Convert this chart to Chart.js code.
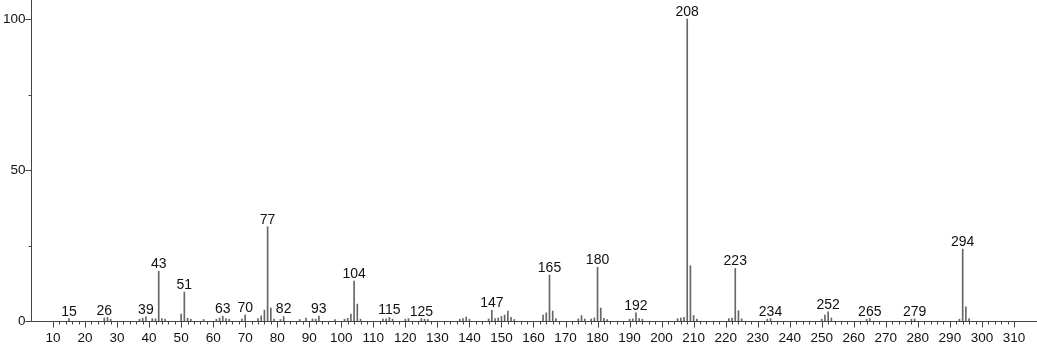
<!DOCTYPE html>
<html>
<head>
<meta charset="utf-8">
<script src="https://cdn.jsdelivr.net/npm/chart.js@4.4.1/dist/chart.umd.min.js"></script>
<style>
  html, body { margin: 0; padding: 0; background: #fff; }
  #wrap { width: 1037px; height: 345px; position: relative; }
</style>
</head>
<body>
<div id="wrap"><canvas id="c"></canvas></div>
<script>
// m/z values and relative intensities
const mz = [15,26,27,28,37,38,39,41,42,43,44,45,50,51,52,53,57,61,62,63,64,65,69,70,74,75,76,77,78,79,81,82,87,89,91,92,93,98,101,102,103,104,105,106,113,114,115,116,120,121,125,126,127,137,138,139,140,146,147,148,149,150,151,152,153,154,163,164,165,166,167,174,175,176,178,179,180,181,182,183,190,191,192,193,194,205,206,207,208,209,210,211,221,222,223,224,225,233,234,250,251,252,253,264,265,278,279,293,294,295,296];
const intensity = [0.8,1.0,1.2,0.6,0.6,0.9,1.4,0.8,0.7,16.5,0.8,0.6,2.3,9.6,0.9,0.6,0.5,0.6,1.0,1.6,0.8,0.6,0.6,2.0,0.8,1.7,3.6,31.2,4.3,0.6,0.5,1.5,0.5,1.0,0.7,0.6,1.6,0.5,0.6,0.9,2.3,13.2,5.6,0.6,0.7,0.7,1.2,0.6,0.6,0.8,0.8,0.6,0.5,0.6,0.8,1.3,0.6,0.7,3.5,0.8,1.0,1.5,2.0,3.3,1.2,0.5,2.0,2.7,15.2,3.3,0.8,0.7,1.8,0.7,0.6,1.0,17.8,4.3,0.9,0.5,0.6,0.7,2.7,0.8,0.6,0.8,1.0,1.2,100,18.3,1.8,0.6,0.8,1.0,17.4,3.4,0.7,0.6,0.8,0.6,2.0,3.0,1.0,0.6,0.8,0.6,0.7,0.6,23.8,4.7,0.8];
// peaks carrying a text label
const labeledPeaks = [15,26,39,43,51,63,70,77,82,93,104,115,125,147,165,180,192,208,223,234,252,265,279,294];
// axis tick labels
const xTickLabels = [10,20,30,40,50,60,70,80,90,100,110,120,130,140,150,160,170,180,190,200,210,220,230,240,250,260,270,280,290,300,310];
const yTickLabels = [0,50,100];
const yMinorTicks = [25,75];

const points = mz.map((m, i) => ({ x: m, y: intensity[i] }));

const axisPlugin = {
  id: 'axisPlugin',
  afterDatasetsDraw(chart) {
    const ctx = chart.ctx;
    const xs = chart.scales.x, ys = chart.scales.y, ca = chart.chartArea;
    const y0 = Math.round(ys.getPixelForValue(0)) + 0.5;
    const xl = Math.round(ca.left) + 0.5;
    ctx.save();
    ctx.strokeStyle = '#444';
    ctx.lineWidth = 1;
    ctx.beginPath();
    ctx.moveTo(xl, ca.top);
    ctx.lineTo(xl, y0);
    ctx.lineTo(ca.right, y0);
    ctx.stroke();
    // x ticks
    ctx.beginPath();
    for (let v = 10; v <= 310; v += 2) {
      const px = Math.round(xs.getPixelForValue(v)) + 0.5;
      const len = (v % 10 === 0) ? 6 : 3;
      ctx.moveTo(px, y0);
      ctx.lineTo(px, y0 + len);
    }
    // y ticks
    yTickLabels.forEach(v => {
      const py = Math.round(ys.getPixelForValue(v)) + 0.5;
      ctx.moveTo(xl, py); ctx.lineTo(xl - 6, py);
    });
    yMinorTicks.forEach(v => {
      const py = Math.round(ys.getPixelForValue(v)) + 0.5;
      ctx.moveTo(xl, py); ctx.lineTo(xl - 3, py);
    });
    ctx.stroke();
    // tick labels
    ctx.fillStyle = '#111';
    ctx.font = '13.5px "Liberation Sans", Arial, sans-serif';
    ctx.textAlign = 'center';
    ctx.textBaseline = 'middle';
    xTickLabels.forEach(v => {
      ctx.fillText(String(v), xs.getPixelForValue(v), y0 + 17);
    });
    ctx.textAlign = 'right';
    yTickLabels.forEach(v => {
      ctx.fillText(String(v), xl - 6, ys.getPixelForValue(v));
    });
    // peak labels
    ctx.font = '14px "Liberation Sans", Arial, sans-serif';
    ctx.textAlign = 'center';
    ctx.textBaseline = 'alphabetic';
    const meta = chart.getDatasetMeta(0);
    meta.data.forEach((el, i) => {
      const m = mz[i];
      if (labeledPeaks.includes(m)) {
        ctx.fillText(String(m), el.x, el.y - 3);
      }
    });
    ctx.restore();
  }
};

new Chart(document.getElementById('c'), {
  type: 'bar',
  data: {
    datasets: [{
      data: points,
      backgroundColor: '#666',
      borderWidth: 0,
      barThickness: 1,
      grouped: false
    }]
  },
  options: {
    responsive: true,
    maintainAspectRatio: false,
    animation: false,
    layout: { padding: { left: 31, right: 0, top: 0, bottom: 24 } },
    plugins: { legend: { display: false }, tooltip: { enabled: false } },
    scales: {
      x: { type: 'linear', min: 3.13, max: 317.2, display: false, offset: false },
      y: { min: 0, max: 106.3, display: false }
    }
  },
  plugins: [axisPlugin]
});
</script>
</body>
</html>
